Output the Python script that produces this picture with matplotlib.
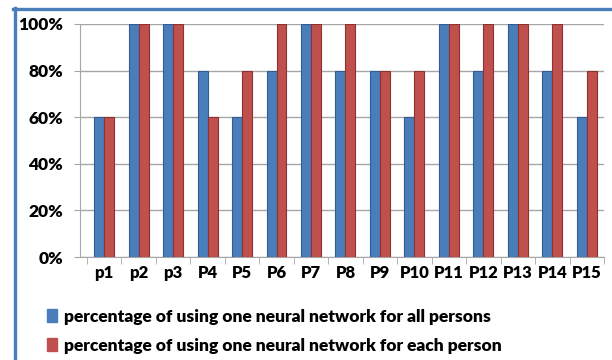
import numpy as np
import matplotlib.pyplot as plt
from matplotlib.patches import Patch
from matplotlib.lines import Line2D

persons = ["p1", "p2", "p3", "P4", "P5", "P6", "P7", "P8", "P9", "P10",
           "P11", "P12", "P13", "P14", "P15"]
all_persons = [60, 100, 100, 80, 60, 80, 100, 80, 80, 60, 100, 80, 100, 80, 60]
each_person = [60, 100, 100, 60, 80, 100, 100, 100, 80, 80, 100, 100, 100, 100, 80]

blue = "#4a7ebb"
red = "#c0504d"

plt.rcParams['font.family'] = ['Lato', 'DejaVu Sans']

fig = plt.figure(figsize=(6.12, 3.6), dpi=100)
ax = fig.add_axes([80/612, 1-257/360, 524/612, 233/360])

x = np.arange(len(persons))
w = 0.29
ax.bar(x - w/2, all_persons, w, color=blue, edgecolor="#2f5c93", linewidth=0.8, zorder=3)
ax.bar(x + w/2, each_person, w, color=red, edgecolor="#8e3230", linewidth=0.8, zorder=3)

ax.set_xlim(-0.7, 14.5)
ax.set_ylim(0, 100)
ax.set_yticks([0, 20, 40, 60, 80, 100])
ax.set_yticklabels(["0%", "20%", "40%", "60%", "80%", "100%"], fontsize=12.5, fontweight="heavy")
ax.yaxis.grid(True, color="#a6a6a6", linewidth=1, zorder=0)
ax.set_xticks(x)
ax.set_xticklabels(persons, fontsize=12, fontweight="heavy")
ax.set_xticks(np.arange(-0.5, 15, 1), minor=True)
ax.tick_params(axis="x", which="major", length=0, pad=6)
ax.tick_params(axis="x", which="minor", length=5, color="#a6a6a6")
ax.tick_params(axis="y", length=4, color="#a6a6a6", pad=8)
for s in ["top", "right"]:
    ax.spines[s].set_visible(False)
ax.spines["left"].set_color("#a6a6a6")
ax.spines["bottom"].set_color("#a6a6a6")

handles = [Patch(color=blue), Patch(color=red)]
labels = ["percentage of using one neural network for all persons",
          "percentage of using one neural network for each person"]
fig.legend(handles, labels, loc="upper left", bbox_to_anchor=(31/612, 1-293/360),
           frameon=False, handlelength=0.6, handleheight=0.7,
           handletextpad=0.4, labelspacing=0.75, prop={"weight": "heavy", "size": 12.5})

# blue frame on top and left
fig.add_artist(Line2D([13/612, 1], [1-8.5/360, 1-8.5/360], color=blue, linewidth=2.4))
fig.add_artist(Line2D([14.5/612, 14.5/612], [0, 1-8/360], color=blue, linewidth=2.4))

fig.savefig("out.png", dpi=100)
